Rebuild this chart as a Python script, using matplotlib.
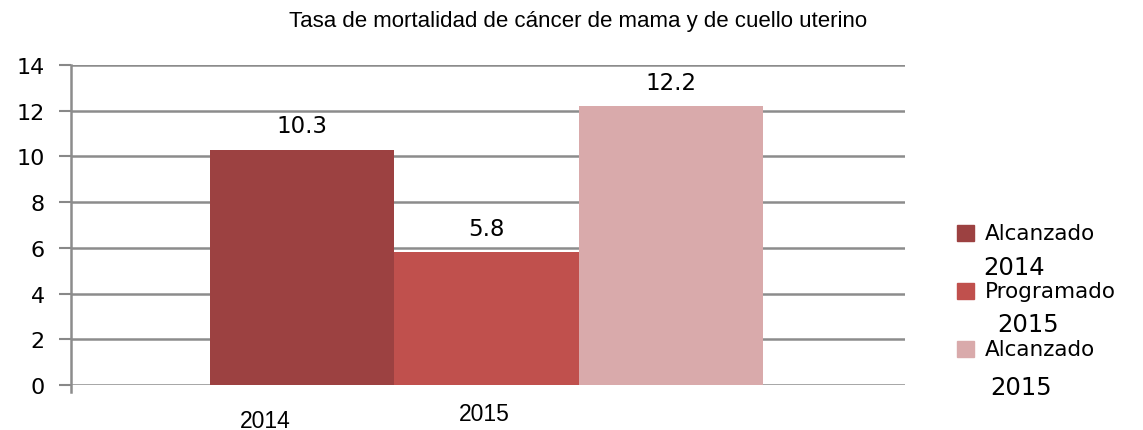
import matplotlib.pyplot as plt
from matplotlib.patches import Rectangle

series = ['Alcanzado\n2014', 'Programado\n2015', 'Alcanzado\n2015']
values = [10.3, 5.8, 12.2]
colors = ['#9C4141', '#C0504D', '#D9AAAB']
year_labels = ['2014', '2015']
year_pos = [-0.2, 0.99]
year_dy = [-30, -25.5]
yticks = [0, 2, 4, 6, 8, 10, 12, 14]

fig = plt.figure(figsize=(11.43, 4.31), dpi=100)
ax = fig.add_axes([0.0621, 0.1044, 0.7297, 0.7425])

bars = ax.bar(range(len(values)), values, width=1.0, color=colors)

ax.set_xlim(-1.254, 3.27)
ax.set_ylim(0, 14)
ax.set_yticks(yticks)
ax.set_yticklabels([str(t) for t in yticks], fontsize=16, family='DejaVu Sans')
ax.tick_params(axis='y', length=9, width=1.5, color='#888888', pad=10)
ax.set_xticks([])

ax.grid(axis='y', color='#8c8c8c', linewidth=1.8)
ax.set_axisbelow(True)
for side in ['top', 'right', 'bottom']:
    ax.spines[side].set_visible(False)
ax.spines['left'].set_color('#8c8c8c')
ax.spines['left'].set_linewidth(1.8)
ax.spines['left'].set_bounds(-0.3, 14)

for bar, v in zip(bars, values):
    ax.annotate(f'{v}', (bar.get_x() + bar.get_width() / 2, v),
                xytext=(0, 17), textcoords='offset points',
                ha='center', va='center', fontsize=16.5, family='DejaVu Sans')

for lab, x, dy in zip(year_labels, year_pos, year_dy):
    ax.annotate(lab, (x, 0), xytext=(0, dy), textcoords='offset points',
                ha='center', va='baseline', fontsize=16.5, family='Liberation Sans')

fig.text(578 / 1143, 1 - 22 / 431, 'Tasa de mortalidad de cáncer de mama y de cuello uterino',
         ha='center', va='center', fontsize=16, family='Liberation Sans')

# legend drawn by hand to mimic the offset second lines
sq_y = [234, 292, 350]
year_x = [983, 997, 990]
year_y = [268, 325, 388]
W, H = 1143, 431
for name, c, sy, yx, yy in zip(series, colors, sq_y, year_x, year_y):
    first, second = name.split('\n')
    fig.patches.append(Rectangle((957 / W, 1 - (sy + 8) / H), 17 / W, 16 / H,
                                 transform=fig.transFigure, color=c))
    fig.text(985 / W, 1 - sy / H, first, ha='left', va='center',
             fontsize=15.5, family='DejaVu Sans')
    fig.text(yx / W, 1 - yy / H, second, ha='left', va='center',
             fontsize=17.5, family='DejaVu Sans')

fig.savefig('out.png', dpi=100)
